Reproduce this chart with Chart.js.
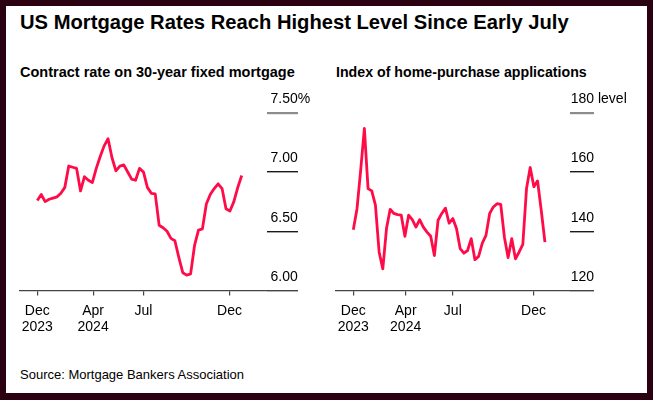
<!DOCTYPE html>
<html>
<head>
<meta charset="utf-8">
<script src="https://cdn.jsdelivr.net/npm/chart.js@4.4.1/dist/chart.umd.min.js"></script>
<style>
  html, body { margin: 0; padding: 0; }
  body {
    width: 653px; height: 400px; position: relative; overflow: hidden;
    background: #2b0010;
    font-family: 'Liberation Sans', Arial, sans-serif; color: #000;
  }
  #card { position: absolute; left: 6px; top: 6px; width: 641px; height: 387px; background: #fff; }
  .txt { position: absolute; white-space: nowrap; }
  #title { left: 20px; top: 12px; font-size: 20.2px; font-weight: bold; line-height: 20px; }
  .sub { top: 65px; font-weight: bold; line-height: 14px; }
  #source { left: 20px; top: 368px; font-size: 13px; line-height: 14px; }
  canvas { position: absolute; top: 0; }
</style>
</head>
<body>
<div id="card"></div>
<div class="txt" id="title">US Mortgage Rates Reach Highest Level Since Early July</div>
<div class="txt sub" style="left:20px; font-size:14.5px">Contract rate on 30-year fixed mortgage</div>
<div class="txt sub" style="left:336px; font-size:14.2px">Index of home-purchase applications</div>
<div class="txt" id="source">Source: Mortgage Bankers Association</div>
<canvas id="rateChart" width="330" height="400" style="left:0"></canvas>
<canvas id="appsChart" width="326" height="400" style="left:320px"></canvas>

<script>
'use strict';

// ── Data (weekly) ───────────────────────────────────────────────
const rateValues = [
  6.76, 6.81, 6.75, 6.77, 6.78, 6.79, 6.82, 6.87, 7.05, 7.04,
  7.03, 6.84, 6.96, 6.93, 6.91, 7.03, 7.13, 7.22, 7.28, 7.12,
  7.01, 7.05, 7.06, 7.00, 6.94, 6.93, 7.03, 7.00, 6.87, 6.82,
  6.815, 6.55, 6.53, 6.50, 6.44, 6.42, 6.28, 6.15, 6.13, 6.14,
  6.38, 6.51, 6.52, 6.73, 6.81, 6.86, 6.90, 6.86, 6.69, 6.67,
  6.75, 6.87, 6.97,
];
const appValues = [
  140.5, 147.6, 160.6, 174.7, 154.4, 153.6, 148.8, 133.0, 127.3, 140.9,
  147.4, 146.0, 145.6, 145.4, 138.3, 145.4, 143.9, 141.4, 143.9, 141.4,
  139.7, 138.3, 131.8, 143.7, 146.0, 147.8, 142.7, 144.3, 140.9, 134.1,
  132.6, 133.5, 137.5, 130.4, 131.5, 136.0, 138.6, 146.0, 148.2, 149.3,
  149.1, 138.0, 131.1, 137.5, 130.7, 133.0, 135.6, 154.4, 161.5, 155.0,
  157.0, 147.0, 136.3,
];

// x tick positions (in weeks from first point) and their labels
const tickWeeks  = [0, 14.2, 27, 48.9];
const tickLabels = [['Dec', '2023'], ['Apr', '2024'], ['Jul'], ['Dec']];

const rateTicks = [6, 6.5, 7, 7.5];
const appTicks  = [120, 140, 160, 180];

// ── Shared styling ──────────────────────────────────────────────
const LINE_RED  = '#ff0b48';
const AXIS_GREY = '#444';
const FONT      = "'Liberation Sans', Arial, sans-serif";

// One panel: line + bottom time axis + short right-hand value ticks.
// The y scale is made wide enough (axisWidth) so its label clip box
// keeps the unit suffix on the top label.
function panel(canvasId, values, yTicks, yFmt, cfg) {
  const ctx = document.getElementById(canvasId).getContext('2d');
  const topVal = yTicks[yTicks.length - 1];
  return new Chart(ctx, {
    type: 'line',
    data: {
      datasets: [{
        data: values.map((v, i) => ({ x: i, y: v })),
        borderColor: LINE_RED,
        borderWidth: 2.8,
        borderJoinStyle: 'round',
        pointRadius: 0,
        tension: 0,
        fill: false,
      }],
    },
    options: {
      responsive: false,
      animation: false,
      events: [],
      layout: { padding: { left: cfg.padLeft, right: 0, top: 112.7, bottom: 49.5 } },
      plugins: { legend: { display: false }, tooltip: { enabled: false }, title: { display: false } },
      scales: {
        x: {
          type: 'linear',
          min: cfg.xMin,
          max: cfg.xMax,
          afterBuildTicks: s => { s.ticks = tickWeeks.map(v => ({ value: v })); },
          afterFit: s => { s.height = 60; },
          border: { display: true, color: AXIS_GREY, width: 1.2 },
          grid: { drawOnChartArea: false, drawTicks: true, tickLength: 5, color: AXIS_GREY, lineWidth: 1.2 },
          ticks: {
            autoSkip: false, maxRotation: 0, padding: 6.8, color: '#000',
            font: { family: FONT, size: 14, lineHeight: 1.2 },
            callback: (v, i) => tickLabels[i],
          },
        },
        y: {
          position: 'right',
          min: yTicks[0],
          max: topVal,
          afterBuildTicks: s => { s.ticks = yTicks.map(v => ({ value: v })); },
          afterFit: s => { s.width = cfg.axisWidth; },
          border: { display: false },
          grid: {
            drawOnChartArea: false, drawTicks: true, tickLength: cfg.tickLen,
            color: c => c.tick.value === topVal ? '#8c8c8c' : (c.tick.value === yTicks[0] ? AXIS_GREY : '#1a1a1a'),
            lineWidth: c => c.tick.value === topVal ? 2.2 : 1.4,
          },
          ticks: {
            autoSkip: false, padding: cfg.labelPad, labelOffset: -13.5, color: '#000',
            font: { family: FONT, size: 14 },
            callback: (v, i, all) => yFmt(v) + (i === all.length - 1 ? cfg.unit : ''),
          },
        },
      },
    },
  });
}

// ── Left: contract rate ─────────────────────────────────────────
panel('rateChart', rateValues, rateTicks, v => v.toFixed(2), {
  padLeft: 20, axisWidth: 63, tickLen: 31, labelPad: -27.5,
  xMin: -4.4, xMax: 58.43, unit: '%',
});

// ── Right: purchase applications index ──────────────────────────
panel('appsChart', appValues, appTicks, v => String(v), {
  padLeft: 16, axisWidth: 76, tickLen: 24, labelPad: -23.3,
  xMin: -4.7, xMax: 58.8, unit: ' level',
});
</script>
</body>
</html>
